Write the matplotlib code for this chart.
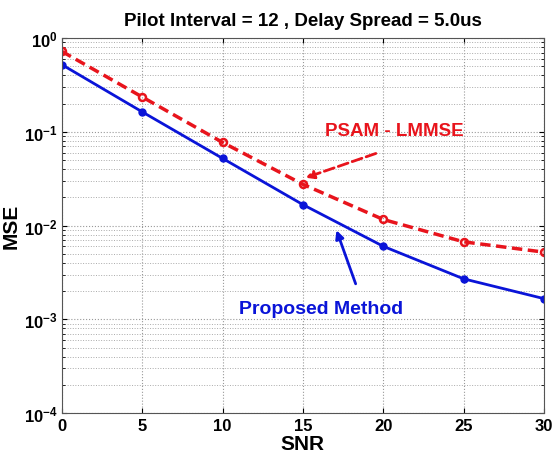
import matplotlib
matplotlib.use("Agg")
import matplotlib.pyplot as plt
from matplotlib.ticker import LogLocator, NullFormatter, FuncFormatter
import numpy as np

snr = [0, 5, 10, 15, 20, 25, 30]
mse_psam = [0.72, 0.235, 0.077, 0.0275, 0.0116, 0.0067, 0.0052]
mse_proposed = [0.52, 0.163, 0.052, 0.0167, 0.0060, 0.0027, 0.00166]

plt.rcParams["font.family"] = ["Liberation Sans", "DejaVu Sans"]
plt.rcParams["font.weight"] = "bold"
plt.rcParams["mathtext.fontset"] = "custom"
plt.rcParams["mathtext.rm"] = "Liberation Sans"
plt.rcParams["mathtext.bf"] = "Liberation Sans:bold"
plt.rcParams["mathtext.default"] = "rm"

fig = plt.figure(figsize=(5.52, 4.56), dpi=100)
ax = fig.add_axes([0.112, 0.092, 0.8735, 0.8225])

ax.semilogy(snr, mse_psam, color="#e8141c", linestyle="--", linewidth=2.5,
            marker="o", markersize=5, markerfacecolor="none",
            markeredgewidth=1.8, dashes=(3, 1.6))
ax.semilogy(snr, mse_proposed, color="#0a14d8", linestyle="-", linewidth=2,
            marker="o", markersize=5, markerfacecolor="#0a14d8",
            markeredgecolor="#0a14d8")

ax.set_xlim(0, 30)
ax.set_ylim(1e-4, 1)
ax.set_xticks([0, 5, 10, 15, 20, 25, 30])
ax.yaxis.set_major_locator(LogLocator(base=10, numticks=10))
ax.yaxis.set_major_formatter(
    FuncFormatter(lambda v, p: r"$\mathbf{10}^{%d}$" % round(np.log10(v))))
ax.yaxis.set_minor_locator(LogLocator(base=10, subs=range(2, 10), numticks=10))
ax.yaxis.set_minor_formatter(NullFormatter())

ax.grid(True, which="major", linestyle=":", color="#999999", linewidth=0.8)
ax.grid(True, which="minor", axis="y", linestyle=":", color="#aaaaaa", linewidth=0.7)
ax.tick_params(which="both", direction="in", labelsize=12, top=True, right=True)
ax.tick_params(axis="y", pad=3)
ax.tick_params(which="minor", length=2)
for lab in ax.get_xticklabels():
    lab.set_fontweight("bold")
for s in ax.spines.values():
    s.set_color("#555555")

ax.set_xlabel("SNR", fontsize=15, fontweight="bold", labelpad=1)
ax.set_ylabel("MSE", fontsize=15, fontweight="bold")
ax.yaxis.set_label_coords(-0.085, 0.5)
ax.set_title("Pilot Interval = 12 , Delay Spread = 5.0us", fontsize=13.5,
             fontweight="bold", pad=9)

ax.text(20.66, 0.1025, "PSAM - LMMSE", color="#e8141c", fontsize=13.5,
        fontweight="bold", ha="center", va="center")
ax.annotate("", xy=(15.0, 0.0316), xytext=(19.7, 0.06),
            arrowprops=dict(arrowstyle="-|>", color="#e8141c", lw=2,
                            linestyle="--", mutation_scale=12))
ax.text(16.1, 0.00131, "Proposed Method", color="#0a14d8", fontsize=14,
        fontweight="bold", ha="center", va="center")
ax.annotate("", xy=(17.03, 0.0095), xytext=(18.34, 0.00224),
            arrowprops=dict(arrowstyle="-|>", color="#0a14d8", lw=2,
                            mutation_scale=12))

fig.savefig("out.png", dpi=100)
